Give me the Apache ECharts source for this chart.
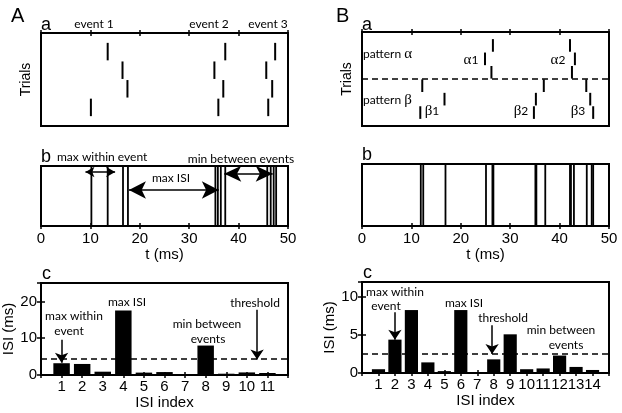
<!DOCTYPE html>
<html><head><meta charset="utf-8">
<script src="https://cdn.jsdelivr.net/npm/echarts@6/dist/echarts.min.js"></script>
<style>html,body{margin:0;padding:0;background:#fff}#c{width:622px;height:413px}</style>
</head><body><div id="c"></div>
<script>
// ---- data ----
const trialTimesA = [[13.5, 37.3, 47.4], [16.5, 35.1, 45.6], [17.5, 36.9, 46.8], [10.1, 35.9, 46.0]];
const trialTimesB = [[26.5, 42.1], [24.9, 43.1], [26.2, 42.5], [12.2, 36.8, 45.4], [16.7, 35.2, 46.2], [11.8, 34.8, 46.8]];
const spikeTimesA = [10.2, 13.5, 16.6, 17.6, 35.3, 35.8, 36.4, 37.3, 45.8, 46.5, 47.1, 47.6];
const spikeTimesB = [11.9, 12.4, 16.9, 25.1, 26.4, 26.6, 35.1, 35.3, 37.1, 42.1, 42.3, 42.9, 45.5, 46.5, 46.8];
const isiIndexA = [1, 2, 3, 4, 5, 6, 7, 8, 9, 10, 11];
const isiA = [3.2, 3.0, 0.9, 17.5, 0.65, 0.8, 0.2, 8.0, 0.35, 0.7, 0.55];
const isiIndexB = [1, 2, 3, 4, 5, 6, 7, 8, 9, 10, 11, 12, 13, 14];
const isiB = [0.5, 4.4, 8.3, 1.4, 0.25, 8.3, 0.1, 1.8, 5.1, 0.5, 0.6, 2.3, 0.8, 0.4];
const thresholdA = 4.5;
const thresholdB = 2.5;
const patternDivider = 3.5;

// ---- styling ----
const BLACK = '#000';
const SANS = 'Liberation Sans';
const ANNO = 'Lato';
const tick = {show: true, inside: true, length: 3, lineStyle: {color: BLACK, width: 1.5}};
const noTick = {show: false};
const grids = [
  {left: 41, top: 33, width: 247, height: 93},
  {left: 41, top: 166, width: 247, height: 60},
  {left: 41, top: 283, width: 247, height: 92},
  {left: 362, top: 32, width: 247, height: 94},
  {left: 362, top: 164, width: 247, height: 62},
  {left: 362, top: 282, width: 247, height: 91}
].map(g => Object.assign(g, {show: true, borderColor: BLACK, borderWidth: 2, backgroundColor: 'transparent', containLabel: false, outerBoundsMode: 'none'}));

function baseAxis(extra) {
  return Object.assign({
    type: 'value', axisLine: {show: false}, splitLine: {show: false},
    axisTick: noTick, axisLabel: {show: false}
  }, extra);
}
const labelStyle = {show: true, color: BLACK, fontSize: 15, fontFamily: SANS};
const nameStyle = {color: BLACK, fontSize: 15, fontFamily: SANS};

const xAxis = [];
const yAxis = [];
function timeX(g, withLabels) {
  xAxis.push(baseAxis({gridIndex: g, position: 'bottom', min: 0, max: 50, interval: 10, axisTick: tick,
    axisLabel: withLabels ? Object.assign({margin: 5}, labelStyle) : {show: false},
    name: withLabels ? 't (ms)' : '', nameLocation: 'middle', nameGap: 17, nameTextStyle: nameStyle}));
  xAxis.push(baseAxis({gridIndex: g, position: 'top', min: 0, max: 50, interval: 10, axisTick: tick}));
}
function isiX(g, idx) {
  const mx = idx.length + 1;
  xAxis.push(baseAxis({gridIndex: g, position: 'bottom', min: 0, max: mx, interval: 1, axisTick: tick,
    axisLabel: Object.assign({margin: 4, formatter: v => (idx.indexOf(v) >= 0 ? String(v) : '')}, labelStyle),
    name: 'ISI index', nameLocation: 'middle', nameGap: 15, nameTextStyle: nameStyle}));
  xAxis.push(baseAxis({gridIndex: g, position: 'top', min: 0, max: mx, interval: 1, axisTick: tick}));
}
function rasterY(g, n) {
  yAxis.push(baseAxis({gridIndex: g, position: 'left', min: 0, max: n, inverse: true,
    name: 'Trials', nameLocation: 'middle', nameGap: 8, nameTextStyle: Object.assign({}, nameStyle, {fontSize: 14})}));
  yAxis.push(baseAxis({gridIndex: g, position: 'right', min: 0, max: n, inverse: true}));
}
function unitY(g) {
  yAxis.push(baseAxis({gridIndex: g, position: 'left', min: 0, max: 1}));
  yAxis.push(baseAxis({gridIndex: g, position: 'right', min: 0, max: 1}));
}
function isiY(g, mx, iv) {
  yAxis.push(baseAxis({gridIndex: g, position: 'left', min: 0, max: mx, interval: iv, axisTick: Object.assign({}, tick, {length: 4}),
    axisLabel: Object.assign({margin: 4, showMaxLabel: false}, labelStyle),
    name: 'ISI (ms)', nameLocation: 'middle', nameGap: 23, nameTextStyle: nameStyle}));
  yAxis.push(baseAxis({gridIndex: g, position: 'right', min: 0, max: mx, interval: iv, axisTick: Object.assign({}, tick, {length: 4})}));
}
timeX(0, false); rasterY(0, trialTimesA.length + 1);
timeX(1, true); unitY(1);
isiX(2, isiIndexA); isiY(2, 25, 10);
timeX(3, false); rasterY(3, trialTimesB.length + 1);
timeX(4, true); unitY(4);
isiX(5, isiIndexB); isiY(5, 12, 5);

// ---- series builders ----
function rasterSeries(ax, trials) {
  const data = [];
  trials.forEach((row, i) => row.forEach(t => data.push([t, i + 1])));
  return {type: 'custom', xAxisIndex: ax, yAxisIndex: ax, data, encode: {x: 0, y: 1}, z: 5,
    renderItem: (p, api) => {
      const a = api.coord([api.value(0), api.value(1) - 0.47]);
      const b = api.coord([api.value(0), api.value(1) + 0.47]);
      return {type: 'line', shape: {x1: a[0], y1: a[1], x2: b[0], y2: b[1]}, style: {stroke: BLACK, lineWidth: 2}};
    }};
}
function spikeSeries(ax, times) {
  return {type: 'custom', xAxisIndex: ax, yAxisIndex: ax, data: times.map(t => [t, 0]), encode: {x: 0, y: 1}, z: 5,
    renderItem: (p, api) => {
      const a = api.coord([api.value(0), 0]);
      const b = api.coord([api.value(0), 1]);
      return {type: 'line', shape: {x1: a[0], y1: a[1], x2: b[0], y2: b[1]}, style: {stroke: BLACK, lineWidth: 1.8}};
    }};
}
function barSeries(ax, idx, vals) {
  return {type: 'custom', xAxisIndex: ax, yAxisIndex: ax, data: idx.map((k, i) => [k, vals[i]]), encode: {x: 0, y: 1}, z: 5,
    renderItem: (p, api) => {
      const a = api.coord([api.value(0) - 0.4, api.value(1)]);
      const b = api.coord([api.value(0) + 0.4, 0]);
      return {type: 'rect', shape: {x: a[0], y: a[1], width: b[0] - a[0], height: b[1] - a[1]}, style: {fill: BLACK}};
    }};
}
function dashedSeries(ax, y, xmax) {
  return {type: 'line', xAxisIndex: ax, yAxisIndex: ax, data: [], z: 6,
    markLine: {silent: true, animation: false, symbol: 'none', label: {show: false},
      lineStyle: {color: BLACK, width: 1.5, type: [6, 4]},
      data: [[{coord: [0, y]}, {coord: [xmax, y]}]]}};
}
function arrowSeries(ax, arrows) {
  return {type: 'line', xAxisIndex: ax, yAxisIndex: ax, data: [], z: 7,
    markLine: {silent: true, animation: false, label: {show: false}, precision: 4,
      lineStyle: {color: BLACK, width: 1.5, type: 'solid'},
      data: arrows.map(a => [
        {coord: a.from, symbol: a.both ? 'arrow' : 'none', symbolSize: a.size},
        {coord: a.to, symbol: 'arrow', symbolSize: a.size}
      ])}};
}

const series = [
  rasterSeries(0, trialTimesA),
  spikeSeries(2, spikeTimesA),
  barSeries(4, isiIndexA, isiA),
  dashedSeries(4, thresholdA, isiIndexA.length + 1),
  rasterSeries(6, trialTimesB),
  dashedSeries(6, patternDivider, 50),
  spikeSeries(8, spikeTimesB),
  barSeries(10, isiIndexB, isiB),
  dashedSeries(10, thresholdB, isiIndexB.length + 1),
  arrowSeries(2, [
    {from: [9.0, 0.9], to: [15.0, 0.9], both: true, size: [8, 9]},
    {from: [17.8, 0.6], to: [36.0, 0.6], both: true, size: [13, 17]},
    {from: [37.1, 0.87], to: [46.9, 0.87], both: true, size: [12, 17]}
  ]),
  arrowSeries(4, [
    {from: [1, 9.6], to: [1, 3.3], size: [10, 10]},
    {from: [10.5, 17.7], to: [10.5, 4.2], size: [10, 10]}
  ]),
  arrowSeries(10, [
    {from: [2, 8.0], to: [2, 4.4], size: [10, 10]},
    {from: [7.9, 6.3], to: [7.9, 2.5], size: [10, 10]}
  ])
];

function txt(text, x, y, size, opts) {
  return {type: 'text', x, y, silent: true, z: 100,
    style: Object.assign({text, fontSize: size, fontFamily: ANNO, fill: BLACK, align: 'center', verticalAlign: 'middle'}, opts || {})};
}
const greek = {g: {fontFamily: 'Liberation Serif', fontSize: 15, fill: BLACK}};
const graphic = [
  txt('A', 11, 16, 20, {fontFamily: SANS, align: 'left'}),
  txt('B', 336, 16, 20, {fontFamily: SANS, align: 'left'}),
  txt('a', 41, 25, 18, {fontFamily: SANS, align: 'left'}),
  txt('a', 362, 25, 18, {fontFamily: SANS, align: 'left'}),
  txt('b', 41, 157, 18, {fontFamily: SANS, align: 'left'}),
  txt('b', 362, 155, 18, {fontFamily: SANS, align: 'left'}),
  txt('c', 42, 274, 18, {fontFamily: SANS, align: 'left'}),
  txt('c', 363, 273, 18, {fontFamily: SANS, align: 'left'}),
  txt('event 1', 94, 24, 12),
  txt('event 2', 209, 24, 12),
  txt('event 3', 268, 24, 12),
  txt('pattern {g|α}', 363, 54, 12, {align: 'left', rich: greek}),
  txt('{g|α}1', 471, 60, 12, {rich: greek}),
  txt('{g|α}2', 558, 60, 12, {rich: greek}),
  txt('pattern {g|β}', 363, 100, 12, {align: 'left', rich: greek}),
  txt('{g|β}1', 432, 111, 12, {rich: greek}),
  txt('{g|β}2', 521, 111, 12, {rich: greek}),
  txt('{g|β}3', 578, 111, 12, {rich: greek}),
  txt('max within event', 57, 157, 12, {align: 'left'}),
  txt('min between events', 241, 159, 12),
  txt('max ISI', 171, 178, 12),
  txt('max ISI', 127, 302, 12),
  txt('max within', 74, 316, 12),
  txt('event', 69, 331, 12),
  txt('min between', 207, 324, 12),
  txt('events', 208, 339, 12),
  txt('threshold', 255, 303, 12),
  txt('max within', 395, 292, 12),
  txt('event', 386, 306, 12),
  txt('max ISI', 464, 303, 12),
  txt('threshold', 503, 318, 12),
  txt('min between', 561, 330, 12),
  txt('events', 566, 345, 12)
];

const chart = echarts.init(document.getElementById('c'), null, {renderer: 'canvas'});
chart.setOption({animation: false, backgroundColor: '#fff', grid: grids, xAxis, yAxis, series, graphic});
</script></body></html>
